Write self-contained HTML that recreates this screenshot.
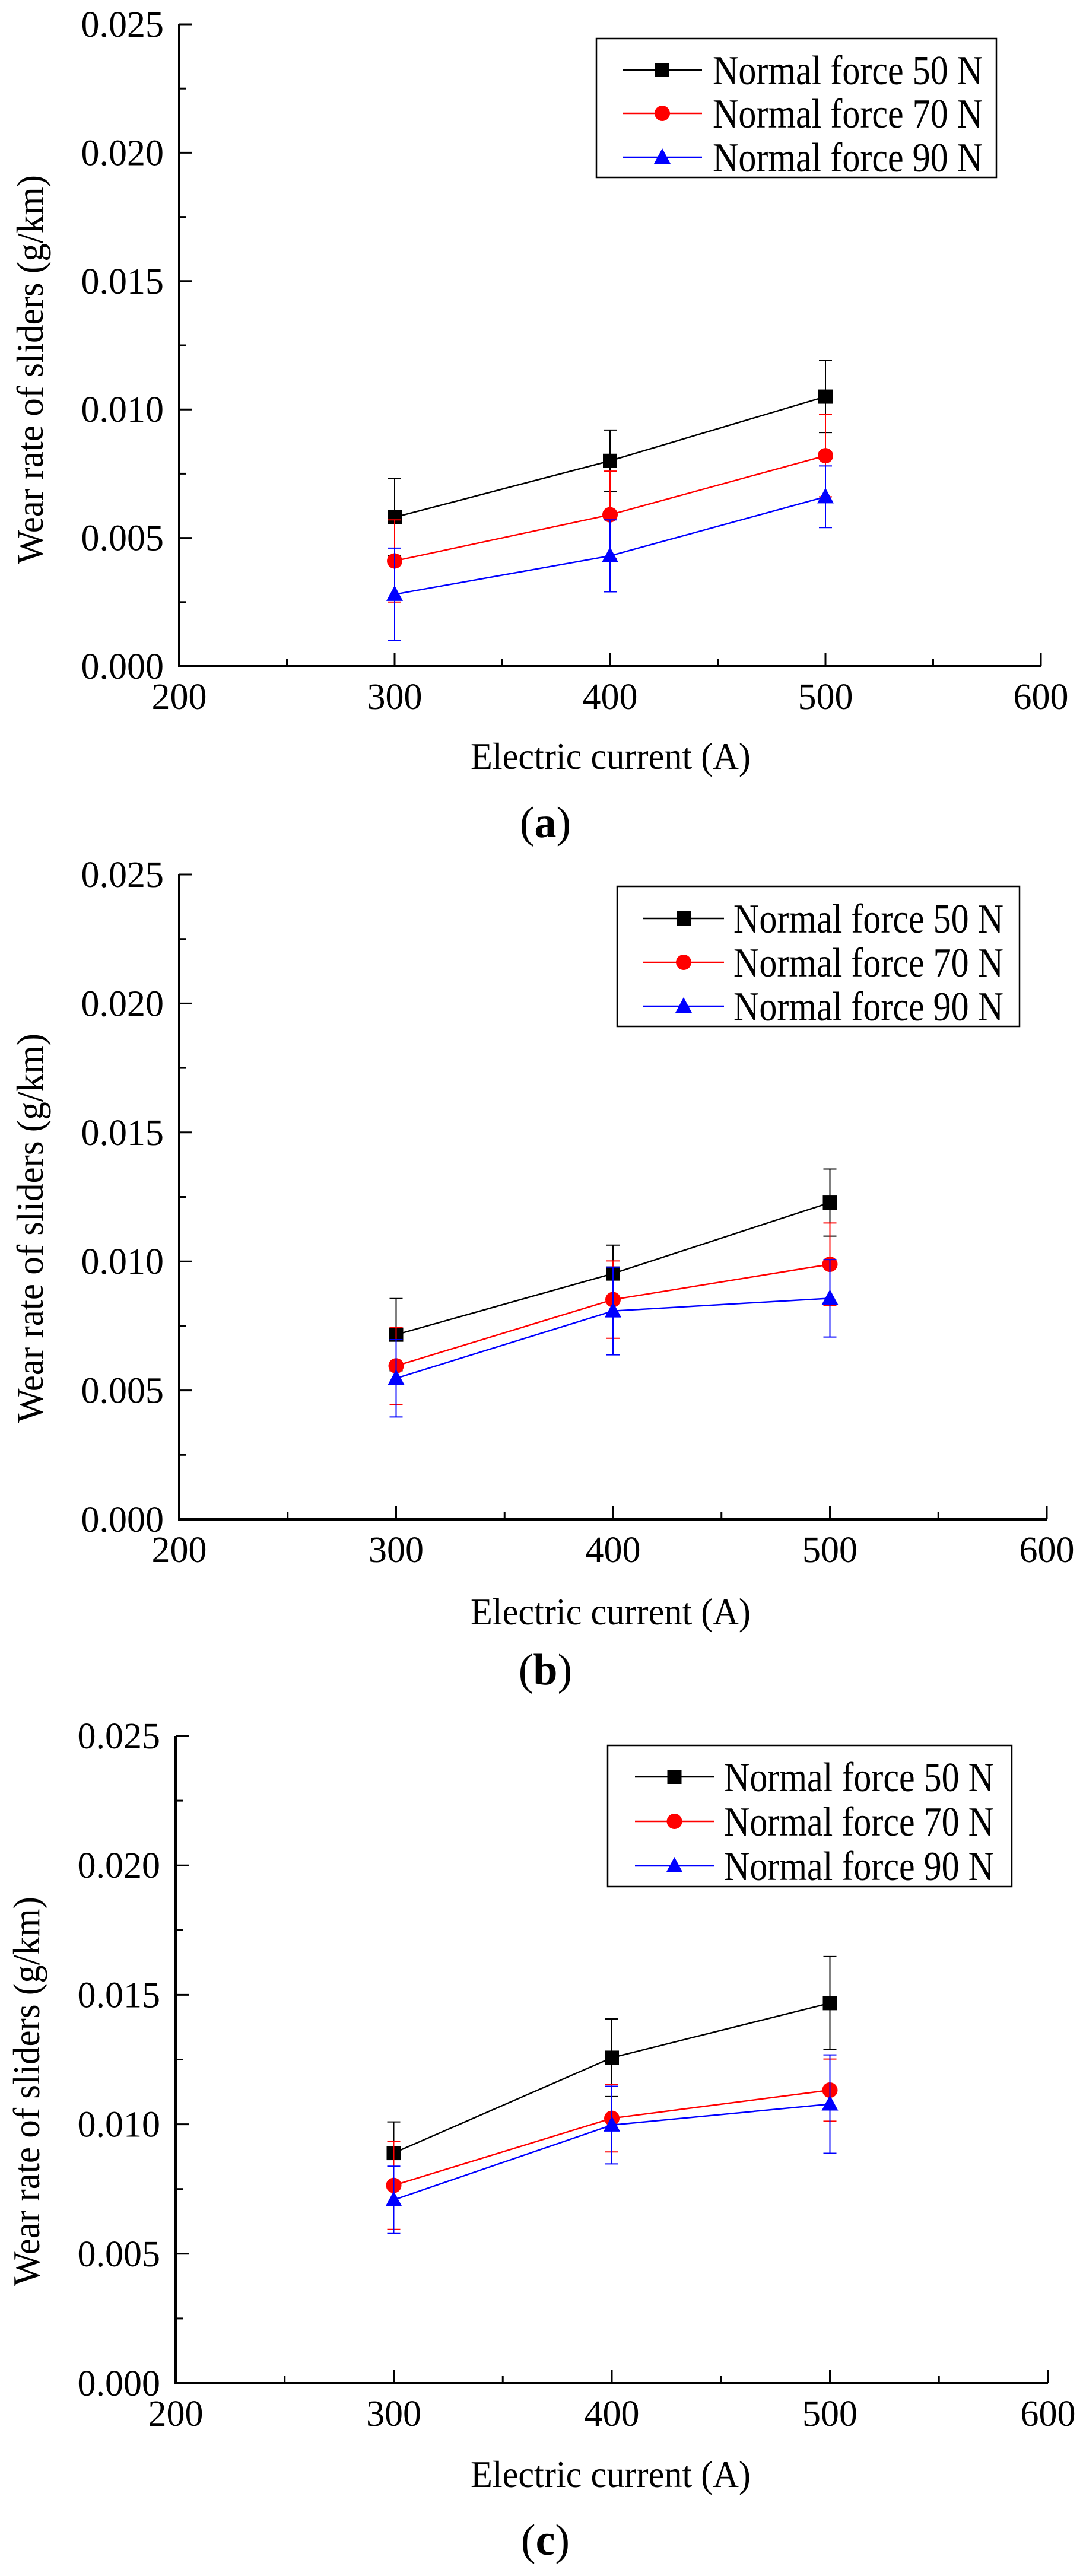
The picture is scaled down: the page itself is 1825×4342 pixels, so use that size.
<!DOCTYPE html>
<html><head><meta charset="utf-8"><style>
html,body{margin:0;padding:0;background:#fff;}
svg{display:block;font-family:"Liberation Serif","Times New Roman",serif;}
text{font-family:"Liberation Serif","Times New Roman",serif;}
</style></head>
<body>
<svg id="fig" width="1825" height="4342" viewBox="0 0 1825 4342" xmlns="http://www.w3.org/2000/svg" font-family="Liberation Serif, serif"></svg>
<script>
const categories = [300, 400, 500];
const seriesNames = ["Normal force 50 N", "Normal force 70 N", "Normal force 90 N"];
const xTicks = [200, 300, 400, 500, 600];
const yTicks = ["0.000", "0.005", "0.010", "0.015", "0.020", "0.025"];
// panel (a)
const a50 = [0.0058, 0.0080, 0.0105];
const a70 = [0.0041, 0.0059, 0.0082];
const a90 = [0.0028, 0.0043, 0.0066];
const a50err = [0.0015, 0.0012, 0.0014];
const a70err = [0.0016, 0.0017, 0.0016];
const a90err = [0.0018, 0.0014, 0.0012];
// panel (b)
const b50 = [0.00716, 0.00953, 0.01228];
const b70 = [0.00595, 0.00852, 0.00989];
const b90 = [0.00547, 0.00808, 0.00857];
const b50err = [0.0014, 0.0011, 0.0013];
const b70err = [0.0015, 0.0015, 0.0016];
const b90err = [0.0015, 0.0017, 0.0015];
// panel (c)
const c50 = [0.00889, 0.01257, 0.01468];
const c70 = [0.00764, 0.01023, 0.01132];
const c90 = [0.00708, 0.00997, 0.01078];
const c50err = [0.0012, 0.0015, 0.0018];
const c70err = [0.0017, 0.0013, 0.0012];
const c90err = [0.0013, 0.0015, 0.0019];

const NS = "http://www.w3.org/2000/svg";
const svg = document.getElementById("fig");
const colors = ["#000000", "#ff0000", "#0000ff"];
const FF = '"Liberation Serif", "Times New Roman", serif';
function mk(tag, attrs, parent) {
  const e = document.createElementNS(NS, tag);
  for (const k in attrs) e.setAttribute(k, attrs[k]);
  if (tag === "text") e.setAttribute("font-family", FF);
  (parent || svg).appendChild(e);
  return e;
}
function marker(g, i, x, y) {
  let m;
  if (i === 0) m = mk("rect", {x: x-12, y: y-12, width: 24, height: 24, fill: colors[0]}, g);
  else if (i === 1) m = mk("circle", {cx: x, cy: y, r: 13, fill: colors[1]}, g);
  else m = mk("polygon", {points: `${x},${y-15} ${x+14},${y+11} ${x-14},${y+11}`, fill: colors[2]}, g);
  return m;
}
function panel(p) {
  const g = mk("g", {});
  
  
  const X = v => p.x0 + (v - 200) / 400 * (p.x1 - p.x0);
  const Y = v => p.y0 - v / 0.025 * (p.y0 - p.yt);
  const ax = mk("path", {d: `M${p.x0},${p.yt} V${p.y0} H${p.x1}`, stroke: "#000", "stroke-width": 4, fill: "none"}, g);
  
  
  for (let k = 0; k <= 10; k++) {
    const v = k * 0.0025, len = k % 2 === 0 ? 22 : 12;
    const t = mk("line", {x1: p.x0, x2: p.x0 + len, y1: Y(v), y2: Y(v), stroke: "#000", "stroke-width": 3}, g);
    
    
  }
  yTicks.forEach(s => {
    const t = mk("text", {x: p.x0 - 26, y: Y(parseFloat(s)) + 21, "font-size": 62, "text-anchor": "end"}, g);
    t.textContent = s;
    
    
  });
  for (let v = 200; v <= 600; v += 50) {
    const len = v % 100 === 0 ? 22 : 12;
    const t = mk("line", {x1: X(v), x2: X(v), y1: p.y0, y2: p.y0 - len, stroke: "#000", "stroke-width": 3}, g);
    
    
  }
  xTicks.forEach(v => {
    const t = mk("text", {x: X(v), y: p.y0 + 72, "font-size": 62, "text-anchor": "middle"}, g);
    t.textContent = v;
    
    
  });
  const xt = mk("text", {x: 1029, y: p.y0 + p.xtOff, "font-size": 64, "text-anchor": "middle", textLength: 472, lengthAdjust: "spacingAndGlyphs"}, g);
  xt.textContent = "Electric current (A)";
  
  
  const yt = mk("text", {x: 0, y: 0, "font-size": 64, "text-anchor": "middle", textLength: 656, lengthAdjust: "spacingAndGlyphs", transform: `translate(${p.ytx},${p.ytc}) rotate(-90)`}, g);
  yt.textContent = "Wear rate of sliders (g/km)";
  
  
  const sub = mk("text", {x: 919, y: p.y0 + p.subOff + 26, "font-size": 74, "text-anchor": "middle"}, g);
  sub.innerHTML = '(<tspan font-weight="bold">' + p.tag + '</tspan>)';
  
  
  p.series.forEach((vals, i) => {
    const sg = mk("g", {}, g);
    
    
    const errs = p.errs[i];
    vals.forEach((v, j) => {
      const x = X(categories[j]), yt2 = Y(v + errs[j]), yb = Y(v - errs[j]);
      const e = mk("path", {d: `M${x},${yt2} V${yb} M${x-11},${yt2} H${x+11} M${x-11},${yb} H${x+11}`, stroke: colors[i], "stroke-width": 2, fill: "none"}, sg);
      
      
    });
    const ln = mk("polyline", {points: vals.map((v, j) => X(categories[j]) + "," + Y(v)).join(" "), stroke: colors[i], "stroke-width": 2.5, fill: "none"}, sg);
    
    
    vals.forEach((v, j) => {
      const m = marker(sg, i, X(categories[j]), Y(v));
      
      
    });
  });
  const L = p.leg;
  const lg = mk("g", {}, g);
  
  
  const box = mk("rect", {x: L.x, y: L.y, width: L.w, height: L.h, fill: "#fff", stroke: "#000", "stroke-width": 2.5}, lg);
  
  
  seriesNames.forEach((s, i) => {
    const ry = L.rows[i];
    const eg = mk("g", {}, lg);
    
    
    mk("line", {x1: L.lx0, x2: L.lx1, y1: ry, y2: ry, stroke: colors[i], "stroke-width": 2.5}, eg);
    marker(eg, i, (L.lx0 + L.lx1) / 2, ry);
    const t = mk("text", {x: L.tx, y: ry + 24, "font-size": 70, textLength: 455, lengthAdjust: "spacingAndGlyphs"}, eg);
    t.textContent = s;
  });
}
panel({tag: "a", x0: 302, x1: 1754, y0: 1123, yt: 41, xtOff: 173, subOff: 262, ytx: 72, ytc: 623,
  series: [a50, a70, a90], errs: [a50err, a70err, a90err],
  leg: {x: 1005, y: 65, w: 674, h: 234, rows: [118, 191, 265], lx0: 1049, lx1: 1183, tx: 1201}});
panel({tag: "b", x0: 302, x1: 1764, y0: 2561, yt: 1474, xtOff: 177, subOff: 252, ytx: 72, ytc: 2070,
  series: [b50, b70, b90], errs: [b50err, b70err, b90err],
  leg: {x: 1040, y: 1494, w: 678, h: 236, rows: [1548, 1622, 1696], lx0: 1084, lx1: 1220, tx: 1236}});
panel({tag: "c", x0: 296, x1: 1766, y0: 4017, yt: 2926, xtOff: 175, subOff: 263, ytx: 66, ytc: 3525,
  series: [c50, c70, c90], errs: [c50err, c70err, c90err],
  leg: {x: 1024, y: 2942, w: 681, h: 238, rows: [2995, 3070, 3145], lx0: 1070, lx1: 1203, tx: 1220}});
</script>
</body></html>
